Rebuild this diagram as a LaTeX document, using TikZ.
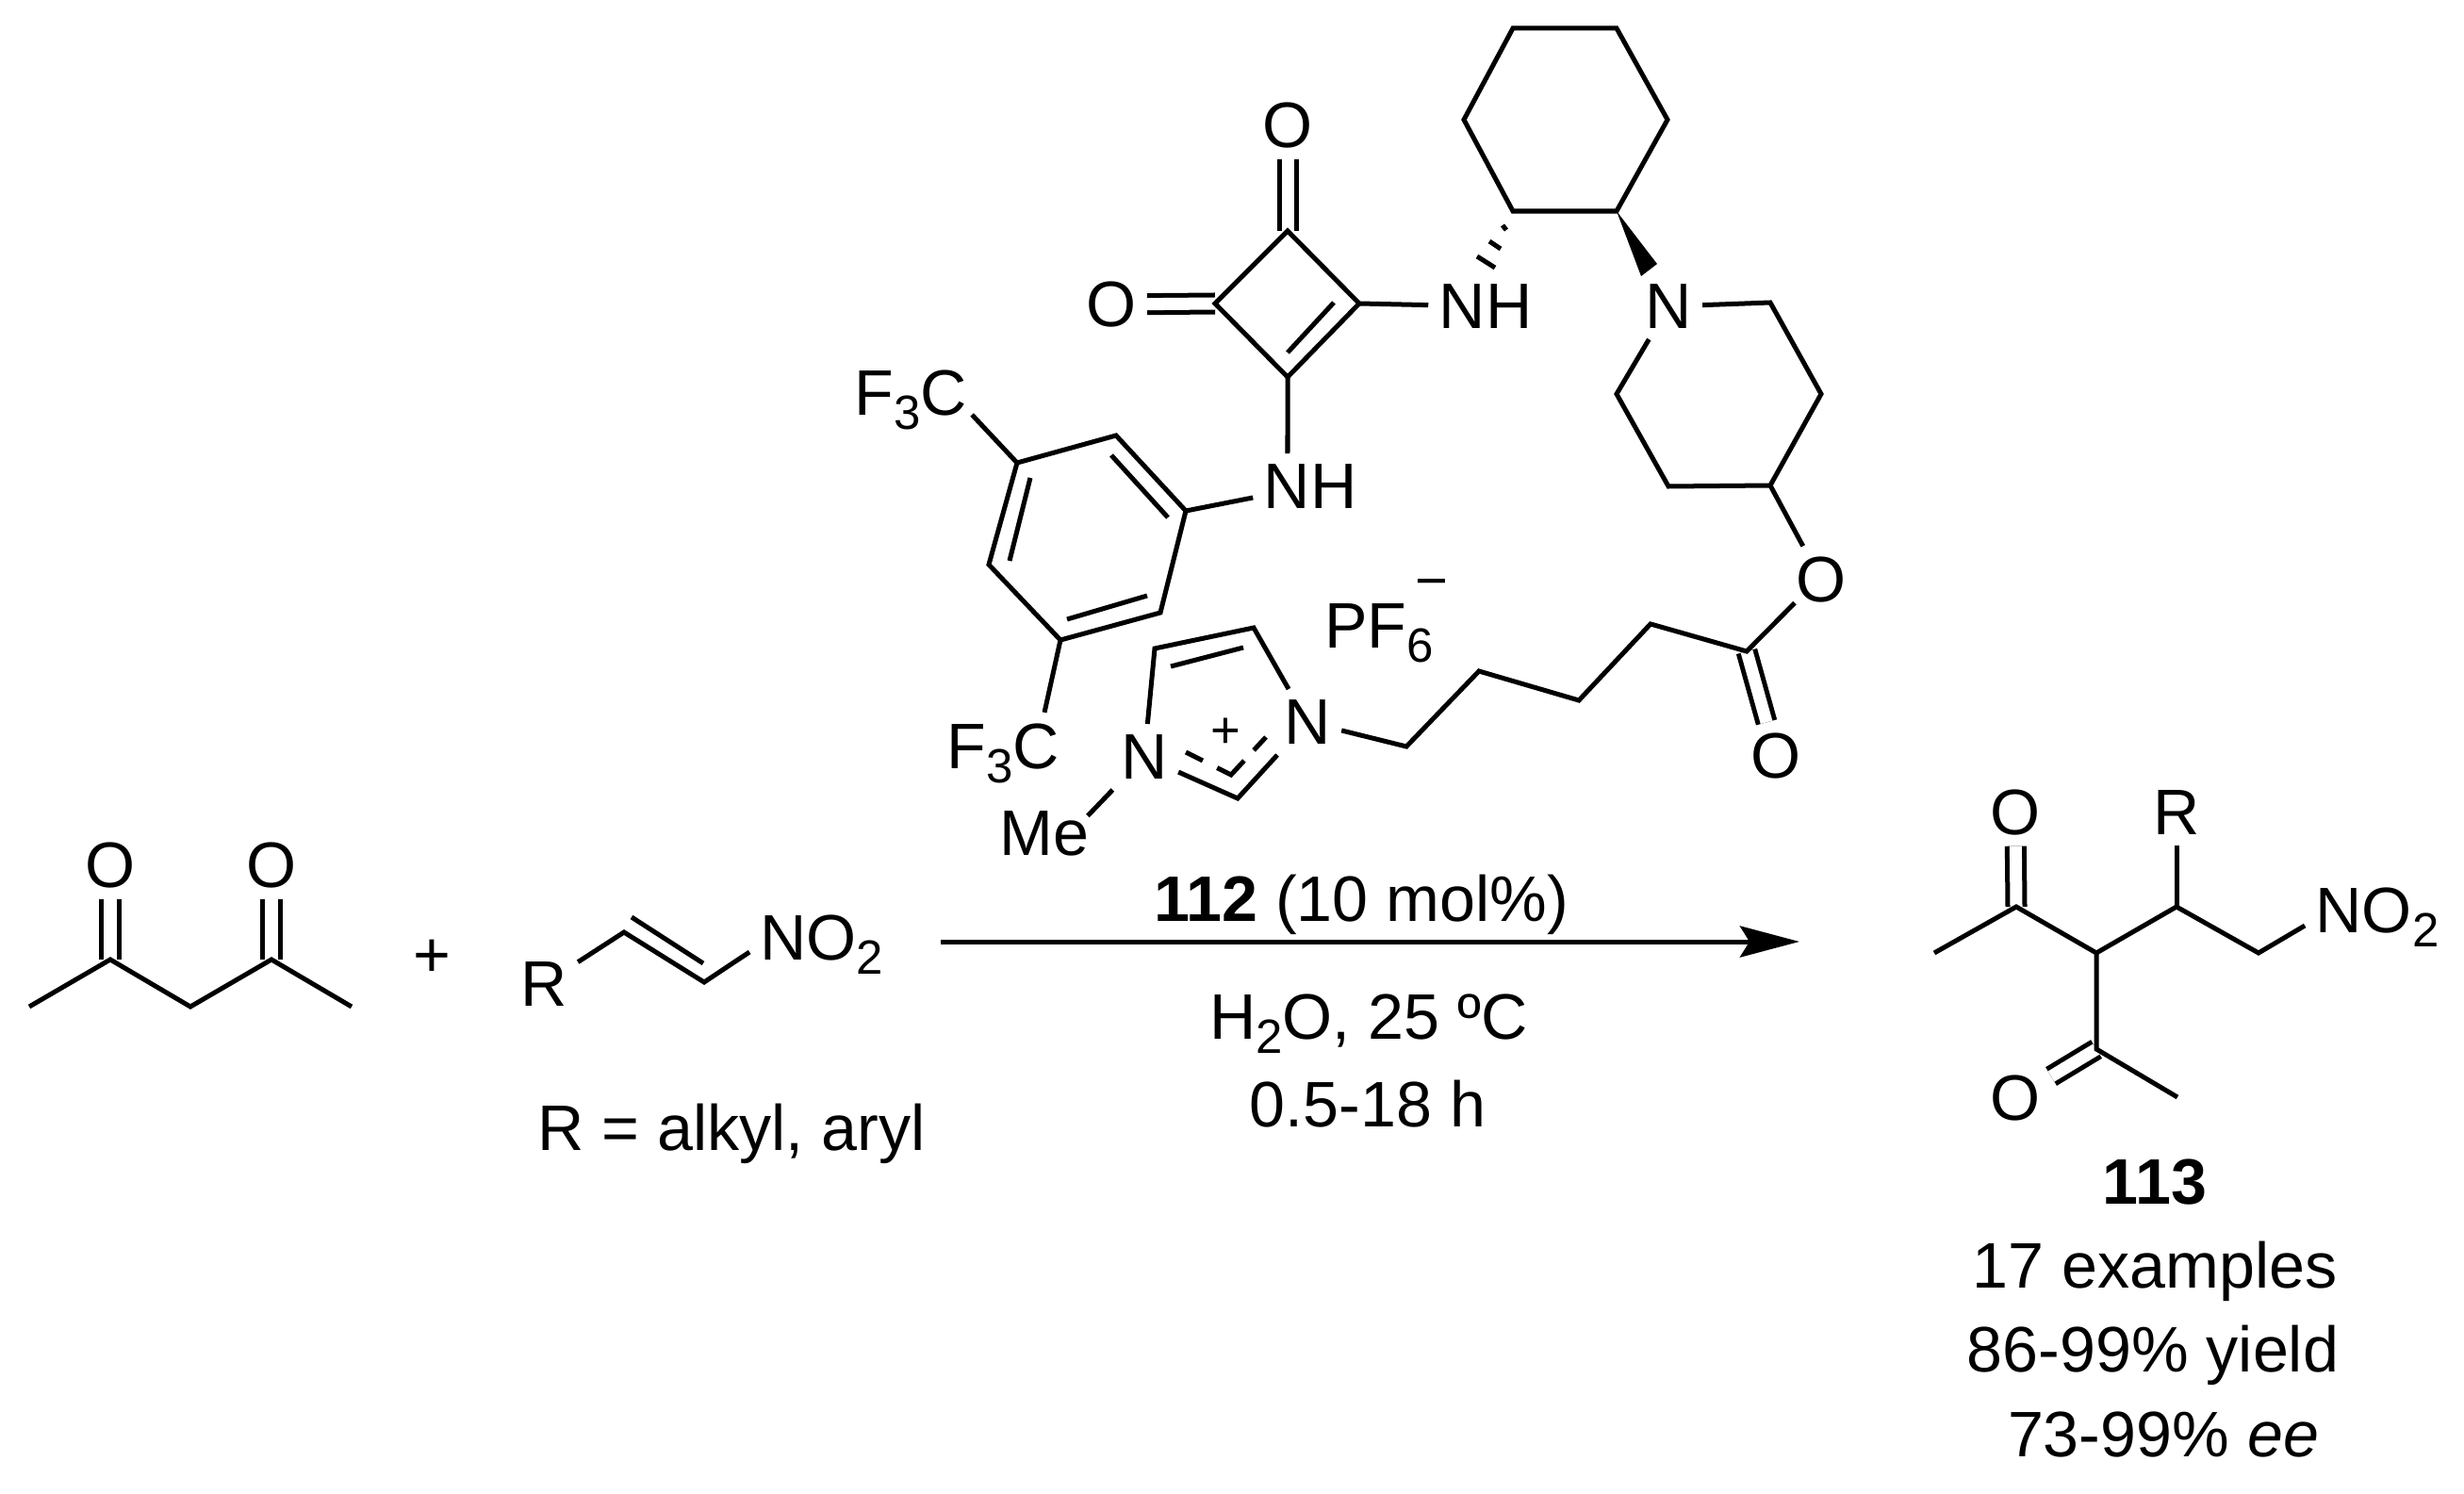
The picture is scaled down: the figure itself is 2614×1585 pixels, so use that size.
\documentclass[tikz,border=0pt]{standalone}
\usepackage{fontspec}
\setmainfont{Liberation Sans}
\usetikzlibrary{arrows.meta}
\newcommand{\subs}[1]{\raisebox{-.22em}{\fontsize{14.5}{14.5}\selectfont #1}}
\begin{document}
\begin{tikzpicture}[x=.01cm, y=-.01cm, line width=.05cm,
    every node/.style={inner sep=.09cm, font=\fontsize{19.4}{23}\selectfont},
    dbl/.style={double, double distance=.13cm},
    caption/.style={anchor=base, inner sep=0pt},
    group/.style={anchor=base}]

    \useasboundingbox (0,0) rectangle (2614,1585);

    % Diketone
    \coordinate (k1) at (31,1068);
    \coordinate (k2) at (117,1018);
    \coordinate (k3) at (202,1068);
    \coordinate (k4) at (288,1018);
    \coordinate (k5) at (373,1068);
    \node (ko1) at (117,918) {O};
    \node (ko2) at (288,918) {O};
    \node (plus) at (458,1017) {+};

    \draw[dbl] (k2) -- (ko1);
    \draw[dbl] (k4) -- (ko2);
    \draw (k1) -- (k2) -- (k3) -- (k4) -- (k5);

    % Nitroalkene
    \node (r1) at (577,1044) {R};
    \coordinate (v1) at (662,989);
    \coordinate (v2) at (747,1042);
    \coordinate (v1i) at (670,973);
    \coordinate (v2i) at (746,1022);
    \node[group] (no1) at (872,1018) {NO\subs{2}};
    \node[caption] (rdef) at (776,1220) {R = alkyl, aryl};

    \draw (r1) -- (v1) -- (v2) -- ([yshift=.08cm]no1.base west);
    \draw (v1i) -- (v2i);

    % Squarate
    \coordinate (s1) at (1366,245);
    \coordinate (s2) at (1289,322);
    \coordinate (s3) at (1442,322);
    \coordinate (s4) at (1366,400);
    \coordinate (s3i) at (1415,321);
    \coordinate (s4i) at (1366,374);
    \node (so1) at (1366,133) {O};
    \node (so2) at (1179,323) {O};
    \node (nh1) at (1576,325) {NH};
    \node (nh2) at (1390,516) {NH};

    \draw[dbl] (s1) -- (so1);
    \draw[dbl] (s2) -- (so2);
    \draw (s1) -- (s3) -- (s4) -- (s2) -- cycle;
    \draw (s3i) -- (s4i);
    \draw (s3) -- (nh1);
    \draw (s4) -- ([xshift=-.24cm]nh2.north);

    % Cyclohexane
    \coordinate (c1) at (1605,30);
    \coordinate (c2) at (1715,30);
    \coordinate (c3) at (1769,127);
    \coordinate (c4) at (1715,224);
    \coordinate (c5) at (1605,224);
    \coordinate (c6) at (1553,127);
    \coordinate (w1) at (1758,280);
    \coordinate (w2) at (1741,293);
    \coordinate (h1a) at (1594,239);
    \coordinate (h1b) at (1598,244);
    \coordinate (h2a) at (1580,256);
    \coordinate (h2b) at (1592,264);
    \coordinate (h3a) at (1567,272);
    \coordinate (h3b) at (1586,284);

    \draw (c1) -- (c2) -- (c3) -- (c4) -- (c5) -- (c6) -- cycle;
    \fill (c4) -- (w1) -- (w2) -- cycle;
    \draw (h1a) -- (h1b);
    \draw (h2a) -- (h2b);
    \draw (h3a) -- (h3b);

    % Piperidine
    \node (pn) at (1770,325) {N};
    \coordinate (p1) at (1878,321);
    \coordinate (p2) at (1932,418);
    \coordinate (p3) at (1878,515);
    \coordinate (p4) at (1770,516);
    \coordinate (p5) at (1715,418);

    \draw (pn) -- (p1) -- (p2) -- (p3) -- (p4) -- (p5) -- (pn);

    % Aryl ring
    \coordinate (a1) at (1184,462);
    \coordinate (a2) at (1258,542);
    \coordinate (a3) at (1231,650);
    \coordinate (a4) at (1125,679);
    \coordinate (a5) at (1049,599);
    \coordinate (a6) at (1079,491);
    \coordinate (a1i) at (1179,483);
    \coordinate (a2i) at (1239,549);
    \coordinate (a3i) at (1217,632);
    \coordinate (a4i) at (1132,657);
    \coordinate (a5i) at (1071,595);
    \coordinate (a6i) at (1093,507);
    \node[group] (cf1) at (966,440) {F\subs{3}C};
    \node[group] (cf2) at (1064,815) {F\subs{3}C};

    \draw (a1) -- (a2) -- (a3) -- (a4) -- (a5) -- (a6) -- cycle;
    \draw (a1i) -- (a2i);
    \draw (a3i) -- (a4i);
    \draw (a5i) -- (a6i);
    \draw (a2) -- (nh2);
    \draw ([xshift=-.06cm]cf1.base east) -- (a6);
    \draw (a4) -- ([xshift=.44cm]cf2.north);

    % Imidazolium
    \node (il) at (1214,803) {N};
    \node (ir) at (1387,766) {N};
    \coordinate (i1) at (1225,688);
    \coordinate (i2) at (1330,666);
    \coordinate (i3) at (1313,847);
    \coordinate (i1i) at (1242,707);
    \coordinate (i2i) at (1319,687);
    \coordinate (d1) at (1343,782);
    \coordinate (d2) at (1306,822);
    \coordinate (d3) at (1256,797);
    \node[inner sep=0pt, font=\fontsize{15.5}{15.5}\selectfont] (ic) at (1300,778) {+};
    \node[group] (me) at (1108,907) {Me};
    \node[group] (pf) at (1463,687) {PF\subs{6}};
    \node[inner sep=0pt, font=\fontsize{17}{17}\selectfont] (pfc) at (1519,625) {−};

    \draw (il) -- (i1) -- (i2) -- (ir) -- (i3) -- (il);
    \draw (i1i) -- (i2i);
    \draw[dash pattern=on .19cm off .15cm on .37cm off .17cm on .2cm] (d1) -- (d2) -- (d3);
    \draw (il) -- ([shift={(-.13cm,-.17cm)}]me.north east);

    % Linker
    \coordinate (l1) at (1492,792);
    \coordinate (l2) at (1569,712);
    \coordinate (l3) at (1675,743);
    \coordinate (l4) at (1751,662);
    \coordinate (l5) at (1853,691);
    \node (lo1) at (1884,802) {O};
    \node (lo2) at (1932,615) {O};

    \draw[dbl] (l5) -- (lo1);
    \draw (ir) -- (l1) -- (l2) -- (l3) -- (l4) -- (l5) -- ([shift={(.1cm,.11cm)}]lo2.south west);
    \draw (lo2) -- (p3);

    % Arrow
    \coordinate (start) at (998,999);
    \coordinate (end) at (1909,999);
    \node[caption] (cat) at (1444,977) {\textbf{112} (10 mol\%)};
    \node[caption] (cond1) at (1452,1102) {H\subs{2}O, 25 ºC};
    \node[caption] (cond2) at (1451,1195) {0.5-18 h};

    \draw[-{Stealth[length=.63cm, width=.33cm, inset=.1cm]}] (start) -- (end);

    % Product
    \coordinate (q1) at (2052,1011);
    \coordinate (q2) at (2139,962);
    \coordinate (q3) at (2224,1011);
    \coordinate (q4) at (2309,962);
    \coordinate (q5) at (2396,1011);
    \coordinate (q6) at (2224,1113);
    \coordinate (q7) at (2310,1164);
    \node (qo1) at (2138,862) {O};
    \node (qo2) at (2138,1165) {O};
    \node (r2) at (2309,862) {R};
    \node[group] (no2) at (2522,989) {NO\subs{2}};
    \node[caption] (id) at (2286,1277) {\textbf{113}};
    \node[caption] (res1) at (2286,1366) {17 examples};
    \node[caption] (res2) at (2284,1455) {86-99\% yield};
    \node[caption] (res3) at (2295,1545) {73-99\% \textit{ee}};

    \draw[dbl] (q2) -- (qo1);
    \draw[dbl] (q6) -- (qo2);
    \draw (q1) -- (q2) -- (q3) -- (q4) -- (q5) -- ([yshift=.07cm]no2.base west);
    \draw (q3) -- (q6) -- (q7);
    \draw (q4) -- (r2);

\end{tikzpicture}
\end{document}
